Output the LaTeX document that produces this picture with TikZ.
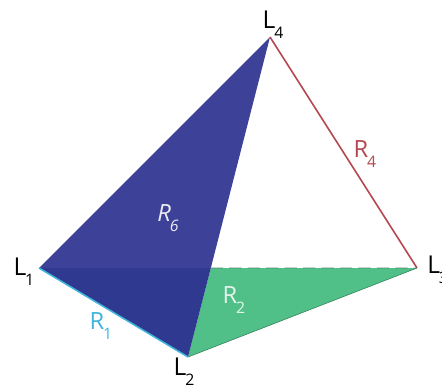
\documentclass[tikz,border=0pt]{standalone}
\usepackage{fontspec}
\setmainfont{Open Sans}
\usetikzlibrary{calc}
\definecolor{navy}{HTML}{3D4198}
\definecolor{navydark}{HTML}{2F398F}
\definecolor{leaf}{HTML}{50BF88}
\definecolor{brick}{HTML}{B4474F}
\definecolor{sky}{HTML}{3FB4DC}
\newcommand{\lab}[2]{#1\kern-0.05em\raisebox{-0.42em}{\fontsize{9}{10}\selectfont #2}}
\tikzset{
	vertex/.style={inner sep=0pt, font=\fontsize{14}{16}\selectfont},
	region/.style={inner sep=0pt, font=\fontsize{13.5}{16}\selectfont},
}
\begin{document}
\begin{tikzpicture}[x=0.02cm, y=-0.02cm]
	\useasboundingbox (0,0) rectangle (442,389);
	% Corners
	\coordinate (P1) at (39,268);
	\coordinate (P2) at (188,357);
	\coordinate (P3) at (417,268);
	\coordinate (P4) at (270,37);
	\coordinate (X) at ($(P2)!0.278!(P4)$);
	
	% Faces
	\fill[leaf] (X) -- (P2) -- (P3) -- cycle;
	\fill[navy] (P1) -- (P4) -- (X) -- cycle;
	\fill[navydark] (P1) -- (X) -- (P2) -- cycle;
	
	% Edges
	\draw[sky, line width=0.9pt] (P1) -- (P2);
	\draw[brick, line width=0.9pt] (P4) -- (P3);
	\draw[leaf!70!black, line width=0.35pt] (P2) -- (P3);
	\draw[leaf!55!black!80, line width=0.5pt, dash pattern=on 7pt off 3.5pt] (X) -- (P3);
	
	% Labels
	\node[vertex] (L1) at (24,272) {\lab{L}{1}};
	\node[vertex] (L2) at (184,372) {\lab{L}{2}};
	\node[vertex, anchor=west] (L3) at (427,270) {\lab{L}{3}};
	\node[vertex] (L4) at (273,25) {\lab{L}{4}};
	\node[region, text=sky] (R1) at (101,326) {\lab{R}{1}};
	\node[region, text=white!85!leaf] (R2) at (234,300) {\lab{R}{2}};
	\node[region, text=brick] (R4) at (365,154) {\lab{R}{4}};
	\node[region, text=white!90!navy] (R6) at (168,218) {\itshape\lab{R}{6}};
\end{tikzpicture}
\end{document}
